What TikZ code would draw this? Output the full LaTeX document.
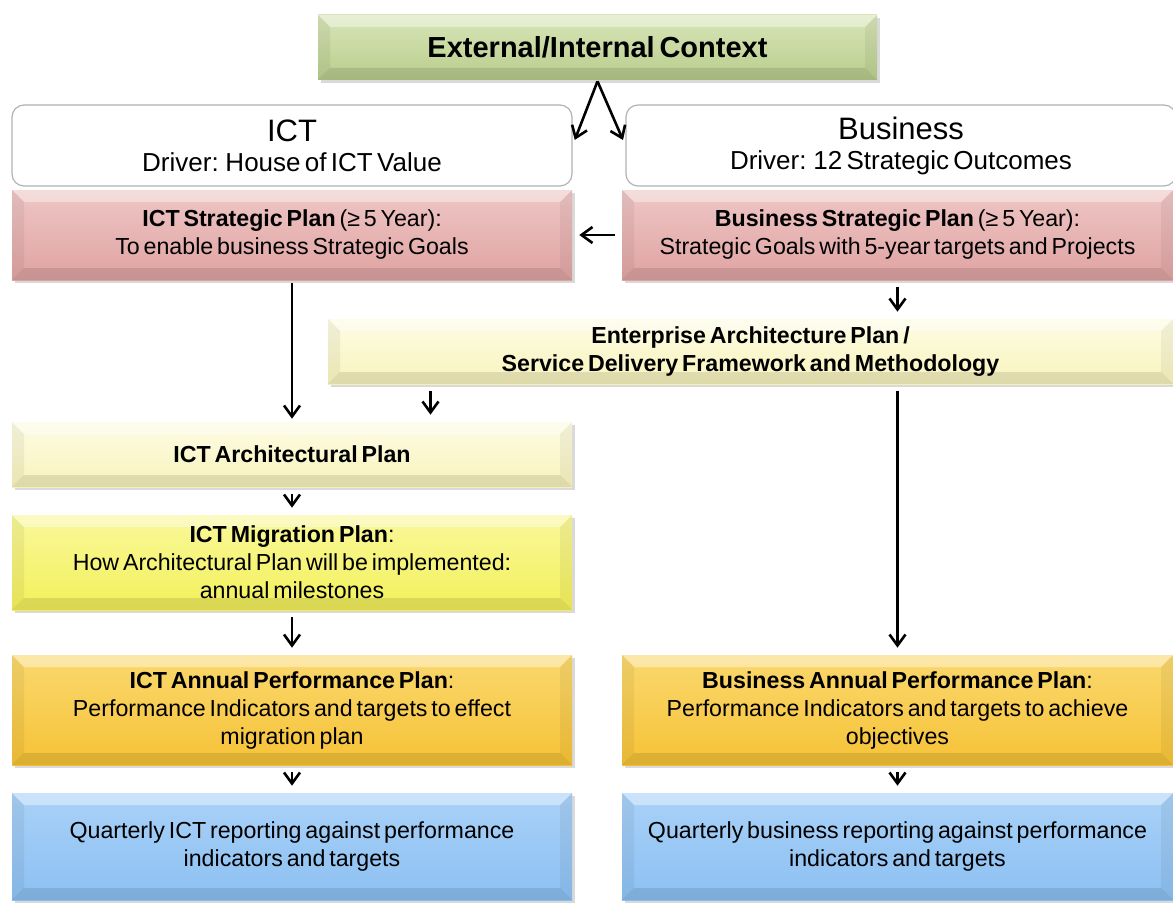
\documentclass[tikz,border=0pt]{standalone}
\usepackage{fontspec}
\setmainfont[WordSpace=0.6]{Liberation Sans}
\usepackage{tikz}
\usetikzlibrary{arrows.meta,shadows}

\definecolor{ctxgreen}{HTML}{B9CD8C}
\definecolor{ctxgreenlt}{HTML}{D8E5B8}
\definecolor{planpink}{HTML}{DFA3A2}
\definecolor{planpinklt}{HTML}{EEC6C5}
\definecolor{eacream}{HTML}{F8F3BC}
\definecolor{eacreamlt}{HTML}{FDFCE4}
\definecolor{migyellow}{HTML}{F3F05A}
\definecolor{migyellowlt}{HTML}{F9F89A}
\definecolor{apporange}{HTML}{F6C236}
\definecolor{apporangelt}{HTML}{FAD86E}
\definecolor{qblue}{HTML}{8CC0F2}
\definecolor{qbluelt}{HTML}{A9D1F7}

\begin{document}
\begin{tikzpicture}[->,>={Straight Barb[length=5.5pt,width=8pt]},line width=1.3pt,
                    x=0.5pt,y=-0.5pt,shorten >=3pt,shorten <=3pt]
  \tikzstyle{plan}=[draw=none,minimum width=280pt,align=center,inner sep=2pt,
    font=\fontsize{11.6}{14}\selectfont,
    drop shadow={shadow xshift=1.5pt,shadow yshift=-1.5pt,opacity=.3},
    path picture={
      \fill[white,opacity=.4] (path picture bounding box.north west)
        -- (path picture bounding box.north east)
        -- ([shift={(-6pt,-6pt)}]path picture bounding box.north east)
        -- ([shift={(6pt,-6pt)}]path picture bounding box.north west) -- cycle;
      \fill[black,opacity=.1] (path picture bounding box.south west)
        -- (path picture bounding box.south east)
        -- ([shift={(-6pt,6pt)}]path picture bounding box.south east)
        -- ([shift={(6pt,6pt)}]path picture bounding box.south west) -- cycle;
      \fill[black,opacity=.05] (path picture bounding box.north west)
        -- ([shift={(6pt,-6pt)}]path picture bounding box.north west)
        -- ([shift={(6pt,6pt)}]path picture bounding box.south west)
        -- (path picture bounding box.south west) -- cycle;
      \fill[black,opacity=.05] (path picture bounding box.north east)
        -- ([shift={(-6pt,-6pt)}]path picture bounding box.north east)
        -- ([shift={(-6pt,6pt)}]path picture bounding box.south east)
        -- (path picture bounding box.south east) -- cycle;
    }]
  \tikzstyle{driver}=[draw=gray!60,line width=.6pt,fill=white,rounded corners=6pt,
    minimum width=280pt,minimum height=40.5pt,align=center,
    font=\fontsize{13}{15}\selectfont]
  \tikzstyle{green}=[plan,top color=ctxgreenlt,bottom color=ctxgreen]
  \tikzstyle{pink}=[plan,top color=planpinklt,bottom color=planpink,minimum height=45pt]
  \tikzstyle{cream}=[plan,top color=eacreamlt,bottom color=eacream,minimum height=32.5pt]
  \tikzstyle{yellow}=[plan,top color=migyellowlt,bottom color=migyellow]
  \tikzstyle{orange}=[plan,top color=apporangelt,bottom color=apporange,minimum height=55pt]
  \tikzstyle{blue}=[plan,top color=qbluelt,bottom color=qblue,minimum height=53.5pt]

  \useasboundingbox (0,0) rectangle (1173,904);

  \node[green,minimum width=279.5pt,minimum height=32.5pt,
        font=\fontsize{14.5}{16}\selectfont\bfseries] (ctx) at (597.5,47.5)
        {External/Internal Context};

  \node[driver] (ict) at (292,145.5)
        {{\fontsize{15.5}{16}\selectfont ICT}\\Driver: House of ICT Value};
  \node[driver,minimum width=275pt] (bus) at (901,145.5)
        {{\fontsize{15.5}{16}\selectfont Business}\\Driver: 12 Strategic Outcomes};

  \node[pink] (ictsp) at (292,235)
        {\textbf{ICT Strategic Plan} (≥ 5 Year):\\To enable business Strategic Goals};
  \node[pink,minimum width=275.5pt] (bussp) at (897.5,235)
        {\textbf{Business Strategic Plan} (≥ 5 Year):\\Strategic Goals with 5-year targets and Projects};

  \node[cream,minimum width=422.5pt,font=\fontsize{11.6}{14}\selectfont\bfseries] (ea) at (750.5,351.5)
        {Enterprise Architecture Plan /\\Service Delivery Framework and Methodology};

  \node[cream,font=\fontsize{11.6}{14}\selectfont\bfseries] (ictarch) at (292,454.5)
        {ICT Architectural Plan};
  \node[yellow,minimum height=47.5pt] (ictmig) at (292,562.5)
        {\textbf{ICT Migration Plan}:\\How Architectural Plan will be implemented:\\annual milestones};

  \node[orange] (ictapp) at (292,710)
        {\textbf{ICT Annual Performance Plan}:\\Performance Indicators and targets to effect\\migration plan};
  \node[orange,minimum width=275.5pt] (busapp) at (897.5,710)
        {\textbf{Business Annual Performance Plan}:\\Performance Indicators and targets to achieve\\objectives};

  \node[blue] (ictq) at (292,846.5)
        {Quarterly ICT reporting against performance\\indicators and targets};
  \node[blue,minimum width=275.5pt] (busq) at (897.5,846.5)
        {Quarterly business reporting against performance\\indicators and targets};

  \draw[shorten <=0pt] (ctx.south) -- (ict.east);
  \draw[shorten <=0pt] (ctx.south) -- (bus.west);
  \draw (bussp.west) -- (ictsp.east);
  \draw (bussp.south) -- (bussp.south |- ea.north);
  \draw[shorten <=1pt,shorten >=1pt] (ictsp.south) -- (ictarch.north);
  \draw ([xshift=-160pt]ea.south) -- ([xshift=-160pt]ea.south |- ictarch.north);
  \draw (ea.south -| busapp.north) -- (busapp.north);
  \draw (ictarch) -- (ictmig);
  \draw (ictmig) -- (ictapp);
  \draw (ictapp) -- (ictq);
  \draw (busapp) -- (busq);
\end{tikzpicture}
\end{document}
